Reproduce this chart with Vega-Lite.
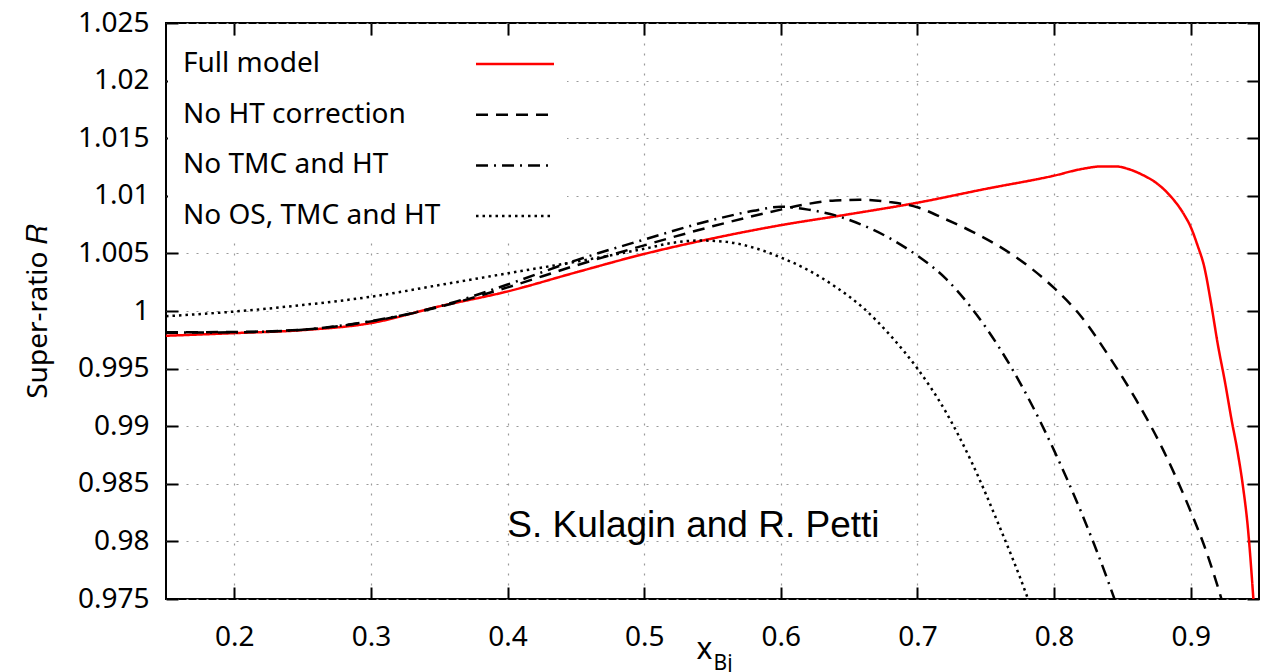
{
  "$schema": "https://vega.github.io/schema/vega-lite/v6.json",
  "width": 1093,
  "height": 576,
  "autosize": {"type": "none"},
  "padding": {"left": 166, "top": 23, "right": 12, "bottom": 73},
  "background": "white",
  "config": {
    "view": {"stroke": "black", "strokeWidth": 2},
    "font": "Noto Sans",
    "axis": {
      "labelFont": "Noto Sans",
      "labelFontSize": 28,
      "labelColor": "black",
      "titleFont": "Noto Sans",
      "titleFontWeight": "normal",
      "titleColor": "black",
      "tickColor": "black",
      "tickWidth": 2,
      "tickSize": -12,
      "domain": false,
      "gridColor": "#9a9a9a",
      "gridDash": [2, 8],
      "gridWidth": 1.2
    }
  },
  "datasets": {
    "curves": [
      {"model": "Full model", "x": 0.15, "r": 0.99785},
      {"model": "Full model", "x": 0.2, "r": 0.99808},
      {"model": "Full model", "x": 0.25, "r": 0.99834},
      {"model": "Full model", "x": 0.3, "r": 0.99895},
      {"model": "Full model", "x": 0.35, "r": 1.0004},
      {"model": "Full model", "x": 0.4, "r": 1.0017},
      {"model": "Full model", "x": 0.45, "r": 1.00335},
      {"model": "Full model", "x": 0.5, "r": 1.00495},
      {"model": "Full model", "x": 0.55, "r": 1.0063},
      {"model": "Full model", "x": 0.6, "r": 1.00745},
      {"model": "Full model", "x": 0.65, "r": 1.0084},
      {"model": "Full model", "x": 0.7, "r": 1.0094},
      {"model": "Full model", "x": 0.75, "r": 1.0106},
      {"model": "Full model", "x": 0.8, "r": 1.01175},
      {"model": "Full model", "x": 0.82, "r": 1.01232},
      {"model": "Full model", "x": 0.835, "r": 1.01255},
      {"model": "Full model", "x": 0.845, "r": 1.01255},
      {"model": "Full model", "x": 0.855, "r": 1.0123},
      {"model": "Full model", "x": 0.865, "r": 1.0118},
      {"model": "Full model", "x": 0.875, "r": 1.0111},
      {"model": "Full model", "x": 0.885, "r": 1.01},
      {"model": "Full model", "x": 0.895, "r": 1.0084},
      {"model": "Full model", "x": 0.9, "r": 1.0073},
      {"model": "Full model", "x": 0.905, "r": 1.0057},
      {"model": "Full model", "x": 0.91, "r": 1.0038},
      {"model": "Full model", "x": 0.915, "r": 1.0006},
      {"model": "Full model", "x": 0.92, "r": 0.997},
      {"model": "Full model", "x": 0.925, "r": 0.9939},
      {"model": "Full model", "x": 0.93, "r": 0.9905},
      {"model": "Full model", "x": 0.934, "r": 0.988},
      {"model": "Full model", "x": 0.938, "r": 0.985},
      {"model": "Full model", "x": 0.942, "r": 0.981},
      {"model": "Full model", "x": 0.945, "r": 0.9765},
      {"model": "Full model", "x": 0.947, "r": 0.973},

      {"model": "No HT correction", "x": 0.15, "r": 0.99815},
      {"model": "No HT correction", "x": 0.2, "r": 0.99818},
      {"model": "No HT correction", "x": 0.25, "r": 0.99838},
      {"model": "No HT correction", "x": 0.3, "r": 0.9991},
      {"model": "No HT correction", "x": 0.35, "r": 1.00035},
      {"model": "No HT correction", "x": 0.4, "r": 1.00205},
      {"model": "No HT correction", "x": 0.45, "r": 1.00395},
      {"model": "No HT correction", "x": 0.5, "r": 1.0057},
      {"model": "No HT correction", "x": 0.55, "r": 1.00735},
      {"model": "No HT correction", "x": 0.6, "r": 1.0088},
      {"model": "No HT correction", "x": 0.62, "r": 1.0093},
      {"model": "No HT correction", "x": 0.64, "r": 1.0096},
      {"model": "No HT correction", "x": 0.66, "r": 1.00965},
      {"model": "No HT correction", "x": 0.68, "r": 1.00945},
      {"model": "No HT correction", "x": 0.7, "r": 1.009},
      {"model": "No HT correction", "x": 0.72, "r": 1.008},
      {"model": "No HT correction", "x": 0.74, "r": 1.0069},
      {"model": "No HT correction", "x": 0.76, "r": 1.0056},
      {"model": "No HT correction", "x": 0.78, "r": 1.004},
      {"model": "No HT correction", "x": 0.8, "r": 1.002},
      {"model": "No HT correction", "x": 0.82, "r": 0.9995},
      {"model": "No HT correction", "x": 0.84, "r": 0.9961},
      {"model": "No HT correction", "x": 0.86, "r": 0.9923},
      {"model": "No HT correction", "x": 0.88, "r": 0.9879},
      {"model": "No HT correction", "x": 0.9, "r": 0.9826},
      {"model": "No HT correction", "x": 0.91, "r": 0.9796},
      {"model": "No HT correction", "x": 0.92, "r": 0.976},
      {"model": "No HT correction", "x": 0.925, "r": 0.974},

      {"model": "No TMC and HT", "x": 0.15, "r": 0.99812},
      {"model": "No TMC and HT", "x": 0.2, "r": 0.99815},
      {"model": "No TMC and HT", "x": 0.25, "r": 0.99838},
      {"model": "No TMC and HT", "x": 0.3, "r": 0.99912},
      {"model": "No TMC and HT", "x": 0.35, "r": 1.0004},
      {"model": "No TMC and HT", "x": 0.4, "r": 1.0023},
      {"model": "No TMC and HT", "x": 0.45, "r": 1.0044},
      {"model": "No TMC and HT", "x": 0.5, "r": 1.0062},
      {"model": "No TMC and HT", "x": 0.55, "r": 1.0079},
      {"model": "No TMC and HT", "x": 0.58, "r": 1.0087},
      {"model": "No TMC and HT", "x": 0.6, "r": 1.00905},
      {"model": "No TMC and HT", "x": 0.62, "r": 1.0088},
      {"model": "No TMC and HT", "x": 0.64, "r": 1.0083},
      {"model": "No TMC and HT", "x": 0.66, "r": 1.00745},
      {"model": "No TMC and HT", "x": 0.68, "r": 1.0063},
      {"model": "No TMC and HT", "x": 0.7, "r": 1.0048},
      {"model": "No TMC and HT", "x": 0.72, "r": 1.0029},
      {"model": "No TMC and HT", "x": 0.74, "r": 1.0002},
      {"model": "No TMC and HT", "x": 0.76, "r": 0.9968},
      {"model": "No TMC and HT", "x": 0.78, "r": 0.9927},
      {"model": "No TMC and HT", "x": 0.8, "r": 0.9879},
      {"model": "No TMC and HT", "x": 0.82, "r": 0.9825},
      {"model": "No TMC and HT", "x": 0.84, "r": 0.9764},
      {"model": "No TMC and HT", "x": 0.846, "r": 0.9744},

      {"model": "No OS, TMC and HT", "x": 0.15, "r": 0.99955},
      {"model": "No OS, TMC and HT", "x": 0.2, "r": 0.99995},
      {"model": "No OS, TMC and HT", "x": 0.25, "r": 1.00052},
      {"model": "No OS, TMC and HT", "x": 0.3, "r": 1.00124},
      {"model": "No OS, TMC and HT", "x": 0.35, "r": 1.00225},
      {"model": "No OS, TMC and HT", "x": 0.4, "r": 1.00327},
      {"model": "No OS, TMC and HT", "x": 0.45, "r": 1.00428},
      {"model": "No OS, TMC and HT", "x": 0.5, "r": 1.0054},
      {"model": "No OS, TMC and HT", "x": 0.52, "r": 1.0059},
      {"model": "No OS, TMC and HT", "x": 0.54, "r": 1.00612},
      {"model": "No OS, TMC and HT", "x": 0.56, "r": 1.006},
      {"model": "No OS, TMC and HT", "x": 0.58, "r": 1.0055},
      {"model": "No OS, TMC and HT", "x": 0.6, "r": 1.00465},
      {"model": "No OS, TMC and HT", "x": 0.62, "r": 1.00355},
      {"model": "No OS, TMC and HT", "x": 0.64, "r": 1.0021},
      {"model": "No OS, TMC and HT", "x": 0.66, "r": 1.0003},
      {"model": "No OS, TMC and HT", "x": 0.68, "r": 0.9979},
      {"model": "No OS, TMC and HT", "x": 0.7, "r": 0.995},
      {"model": "No OS, TMC and HT", "x": 0.72, "r": 0.9914},
      {"model": "No OS, TMC and HT", "x": 0.74, "r": 0.9868},
      {"model": "No OS, TMC and HT", "x": 0.76, "r": 0.9813},
      {"model": "No OS, TMC and HT", "x": 0.78, "r": 0.9753},
      {"model": "No OS, TMC and HT", "x": 0.785, "r": 0.9736}
    ],
    "notes": [
      {"label": "S. Kulagin and R. Petti"}
    ]
  },
  "layer": [
    {
      "data": {"name": "curves"},
      "mark": {"type": "line", "clip": true, "strokeWidth": 2.5, "interpolate": "monotone"},
      "encoding": {
        "x": {
          "field": "x", "type": "quantitative",
          "scale": {"domain": [0.15, 0.95], "nice": false, "zero": false},
          "axis": {
            "orient": "bottom",
            "values": [0.2, 0.3, 0.4, 0.5, 0.6, 0.7, 0.8, 0.9],
            "format": ".1f",
            "grid": true,
            "labelPadding": 36,
            "title": "x",
            "titleFontSize": 30,
            "titleX": 538,
            "titleY": 50,
            "titleAlign": "center",
            "titleBaseline": "middle"
          }
        },
        "y": {
          "field": "r", "type": "quantitative",
          "scale": {"domain": [0.975, 1.025], "nice": false, "zero": false},
          "axis": {
            "orient": "left",
            "values": [0.975, 0.98, 0.985, 0.99, 0.995, 1, 1.005, 1.01, 1.015, 1.02, 1.025],
            "format": ".4~g",
            "grid": true,
            "labelPadding": 29,
            "title": "Super-ratio 𝑅",
            "titleFontSize": 28,
            "titleAngle": -90,
            "titleX": -128,
            "titleY": 288,
            "titleAlign": "center",
            "titleBaseline": "middle"
          }
        },
        "color": {
          "field": "model", "type": "nominal",
          "scale": {
            "domain": ["Full model", "No HT correction", "No TMC and HT", "No OS, TMC and HT"],
            "range": ["#ff0000", "#000000", "#000000", "#000000"]
          },
          "legend": {
            "title": null, "orient": "none", "legendX": 2, "legendY": 19,
            "padding": 8, "fillColor": "white", "strokeColor": null,
            "labelFont": "Noto Sans", "labelFontSize": 28, "labelColor": "black", "labelLimit": 400,
            "symbolType": "M-4,0H4", "symbolSize": 380, "symbolStrokeWidth": 2.5,
            "symbolOffset": 325, "labelOffset": -346, "rowPadding": 22.7
          }
        },
        "strokeDash": {
          "field": "model", "type": "nominal",
          "scale": {
            "domain": ["Full model", "No HT correction", "No TMC and HT", "No OS, TMC and HT"],
            "range": [[1, 0], [12, 8], [12, 6, 2, 6], [2.5, 4]]
          },
          "legend": {
            "title": null, "orient": "none", "legendX": 2, "legendY": 19,
            "padding": 8, "fillColor": "white", "strokeColor": null,
            "labelFont": "Noto Sans", "labelFontSize": 28, "labelColor": "black", "labelLimit": 400,
            "symbolType": "M-4,0H4", "symbolSize": 380, "symbolStrokeWidth": 2.5,
            "symbolOffset": 325, "labelOffset": -346, "rowPadding": 22.7
          }
        }
      }
    },
    {
      "data": {"name": "notes"},
      "mark": {"type": "text", "font": "Liberation Sans", "fontSize": 37, "align": "center", "baseline": "alphabetic", "color": "black"},
      "encoding": {
        "x": {
          "datum": 0.536, "type": "quantitative",
          "scale": {"domain": [0.15, 0.95], "nice": false, "zero": false},
          "axis": {
            "orient": "top",
            "values": [0.2, 0.3, 0.4, 0.5, 0.6, 0.7, 0.8, 0.9],
            "labels": false,
            "grid": false,
            "title": "Bj",
            "titleFontSize": 21,
            "titleX": 547,
            "titleY": 640,
            "titleAlign": "left",
            "titleBaseline": "middle"
          }
        },
        "y": {
          "datum": 0.9804, "type": "quantitative",
          "scale": {"domain": [0.975, 1.025], "nice": false, "zero": false},
          "axis": {
            "orient": "right",
            "values": [0.975, 0.98, 0.985, 0.99, 0.995, 1, 1.005, 1.01, 1.015, 1.02, 1.025],
            "labels": false,
            "grid": false,
            "title": null
          }
        },
        "text": {"field": "label", "type": "nominal"}
      }
    }
  ],
  "resolve": {"axis": {"x": "independent", "y": "independent"}}
}
